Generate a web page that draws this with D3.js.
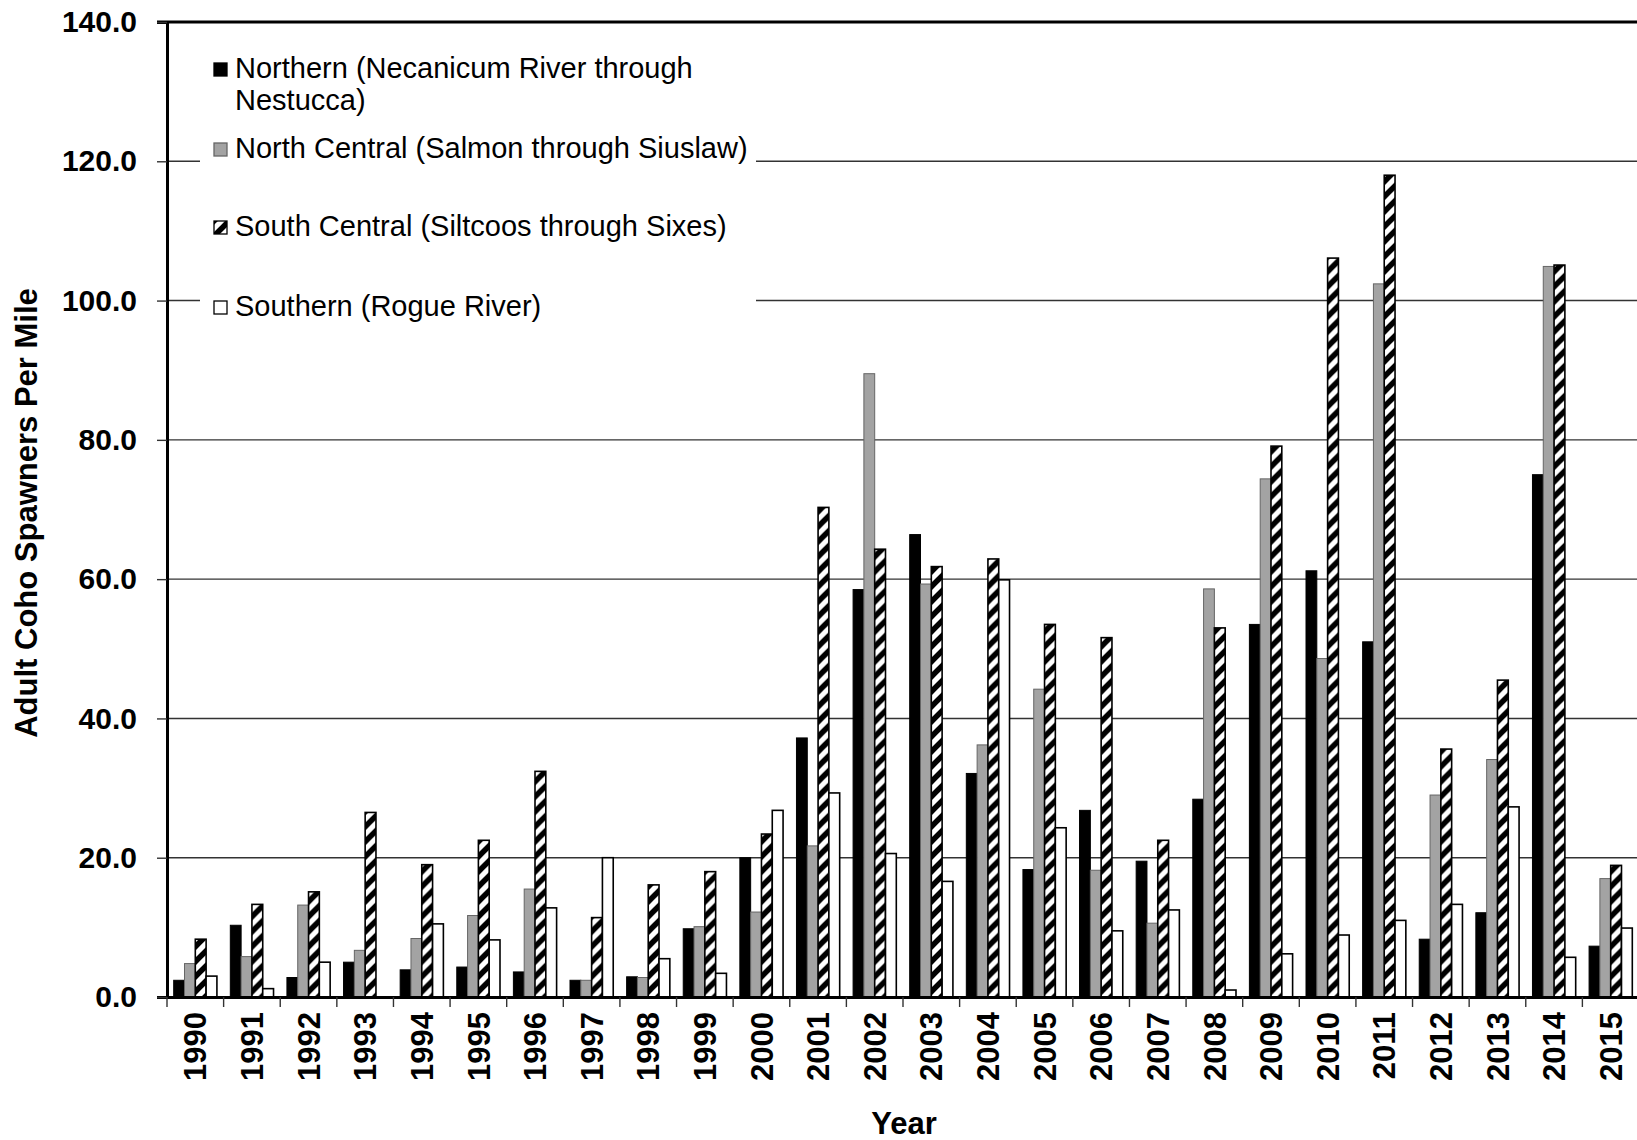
<!DOCTYPE html>
<html>
<head>
<meta charset="utf-8">
<script src="https://cdn.jsdelivr.net/npm/d3@7"></script>
<style>
  body { margin: 0; background: #fff; }
  svg { display: block; font-family: "Liberation Sans", Arial, sans-serif; }
</style>
</head>
<body>
<svg id="chart"></svg>
<script>
const years = ['1990','1991','1992','1993','1994','1995','1996','1997','1998','1999','2000','2001','2002',
  '2003','2004','2005','2006','2007','2008','2009','2010','2011','2012','2013','2014','2015'];

const northern = [2.4,10.3,2.8,5.0,3.9,4.3,3.6,2.4,2.9,9.8,20.0,37.2,58.5,66.4,32.1,18.3,26.8,19.5,28.4,53.5,61.2,51.0,8.3,12.1,75.0,7.3];
const northCentral = [4.8,5.8,13.2,6.7,8.4,11.7,15.5,2.4,2.8,10.1,12.2,21.7,89.5,59.3,36.2,44.2,18.2,10.6,58.6,74.4,48.6,102.4,29.0,34.1,104.9,17.0];
const southCentral = [8.3,13.3,15.1,26.5,19.0,22.5,32.4,11.4,16.1,18.0,23.4,70.3,64.3,61.8,62.9,53.5,51.6,22.5,53.0,79.1,106.1,118.0,35.6,45.5,105.1,18.9];
const southern = [3.0,1.2,5.0,0,10.5,8.2,12.8,20.0,5.5,3.4,26.8,29.3,20.6,16.6,59.9,24.3,9.5,12.5,1.0,6.2,8.9,11.0,13.3,27.3,5.7,9.9];

const seriesNames = [
  ['Northern (Necanicum River through', 'Nestucca)'],
  ['North Central (Salmon through Siuslaw)'],
  ['South Central (Siltcoos through Sixes)'],
  ['Southern (Rogue River)']
];
const yTicks = [0, 20, 40, 60, 80, 100, 120, 140];

const W = 1637, H = 1140;
const plotLeft = 167, plotTop = 22, plotBottom = 997, plotRight = 1639;

const svg = d3.select('#chart').attr('width', W).attr('height', H);

// hatch pattern for South Central
const defs = svg.append('defs');
const pat = defs.append('pattern')
  .attr('id', 'hatch')
  .attr('patternUnits', 'userSpaceOnUse')
  .attr('width', 15).attr('height', 15);
pat.append('rect').attr('width', 15).attr('height', 15).attr('fill', '#fff');
pat.append('path')
  .attr('d', 'M-4,4 L4,-4 M0,15 L15,0 M11,19 L19,11')
  .attr('stroke', '#000').attr('stroke-width', 5.5);

const seriesStyle = [
  { fill: '#000', stroke: '#000', sw: 1 },
  { fill: '#a3a3a3', stroke: '#666', sw: 1 },
  { fill: 'url(#hatch)', stroke: '#000', sw: 1.6 },
  { fill: '#fff', stroke: '#000', sw: 1.6 }
];

const data = years.map((yr, i) => ({
  year: yr,
  values: [northern[i], northCentral[i], southCentral[i], southern[i]]
}));

const x0 = d3.scaleBand().domain(years).range([plotLeft, plotRight]).padding(0);
const x1 = d3.scaleBand().domain([0, 1, 2, 3]).range([0, x0.bandwidth()])
  .paddingInner(0).paddingOuter(0.62);
const y = d3.scaleLinear().domain([0, 140]).range([plotBottom, plotTop]);

// gridlines
svg.append('g')
  .selectAll('line')
  .data(yTicks.filter(d => d > 0 && d < 140))
  .enter()
  .append('line')
  .attr('x1', plotLeft).attr('x2', W)
  .attr('y1', d => y(d)).attr('y2', d => y(d))
  .attr('stroke', '#333')
  .attr('stroke-width', 1.4);

// top border at 140
svg.append('line')
  .attr('x1', plotLeft - 10).attr('x2', W)
  .attr('y1', y(140)).attr('y2', y(140))
  .attr('stroke', '#000').attr('stroke-width', 3);

// bars
const groups = svg.append('g')
  .selectAll('g')
  .data(data)
  .enter()
  .append('g')
  .attr('transform', d => `translate(${x0(d.year)},0)`);

groups.selectAll('rect')
  .data(d => d.values.map((v, k) => ({ k, v })).filter(d => d.v > 0))
  .enter()
  .append('rect')
  .attr('x', d => x1(d.k))
  .attr('y', d => y(d.v))
  .attr('width', x1.bandwidth())
  .attr('height', d => plotBottom - y(d.v))
  .attr('fill', d => seriesStyle[d.k].fill)
  .attr('stroke', d => seriesStyle[d.k].stroke)
  .attr('stroke-width', d => seriesStyle[d.k].sw);

// legend
const legend = svg.append('g');
legend.append('rect')
  .attr('x', 200).attr('y', 40)
  .attr('width', 556).attr('height', 290)
  .attr('fill', '#fff');

const legendBaselines = [78, 158, 236, 316];
seriesNames.forEach((lines, k) => {
  const by = legendBaselines[k];
  legend.append('rect')
    .attr('x', 214).attr('y', by - 15)
    .attr('width', 13).attr('height', 13)
    .attr('fill', seriesStyle[k].fill)
    .attr('stroke', k === 1 ? '#666' : '#000')
    .attr('stroke-width', 1.3);
  lines.forEach((t, j) => {
    legend.append('text')
      .attr('x', 235)
      .attr('y', by + j * 32)
      .attr('font-size', 29)
      .attr('fill', '#000')
      .text(t);
  });
});

// y axis
const yAxis = svg.append('g')
  .attr('transform', `translate(${plotLeft},0)`)
  .call(d3.axisLeft(y).tickValues(yTicks).tickSize(10).tickPadding(20)
    .tickFormat(d3.format('.1f')));
yAxis.select('.domain').attr('stroke', '#000').attr('stroke-width', 3);
yAxis.selectAll('.tick line').attr('stroke', '#333').attr('stroke-width', 1.4);
yAxis.selectAll('text')
  .attr('font-size', 30)
  .attr('font-weight', 'bold')
  .attr('font-family', '"Liberation Sans", Arial, sans-serif')
  .attr('fill', '#000');

// x axis
const xAxis = svg.append('g')
  .attr('transform', `translate(0,${plotBottom})`)
  .call(d3.axisBottom(x0).tickSize(0).tickSizeOuter(0));
xAxis.select('.domain').attr('stroke', '#000').attr('stroke-width', 3);
xAxis.selectAll('text')
  .attr('transform', 'rotate(-90)')
  .attr('x', -15)
  .attr('y', 0)
  .attr('dy', '0.36em')
  .style('text-anchor', 'end')
  .attr('font-size', 31)
  .attr('font-weight', 'bold')
  .attr('font-family', '"Liberation Sans", Arial, sans-serif')
  .attr('fill', '#000');

// category boundary ticks
svg.append('g')
  .selectAll('line')
  .data(years)
  .enter()
  .append('line')
  .attr('x1', d => x0(d)).attr('x2', d => x0(d))
  .attr('y1', plotBottom).attr('y2', plotBottom + 10)
  .attr('stroke', '#333').attr('stroke-width', 1.4);

// axis titles
svg.append('text')
  .attr('transform', 'translate(26,513) rotate(-90)')
  .attr('text-anchor', 'middle')
  .attr('dy', '0.36em')
  .attr('font-size', 31)
  .attr('font-weight', 'bold')
  .text('Adult Coho Spawners Per Mile');

svg.append('text')
  .attr('x', 904).attr('y', 1134)
  .attr('text-anchor', 'middle')
  .attr('font-size', 31)
  .attr('font-weight', 'bold')
  .text('Year');
</script>
</body>
</html>
